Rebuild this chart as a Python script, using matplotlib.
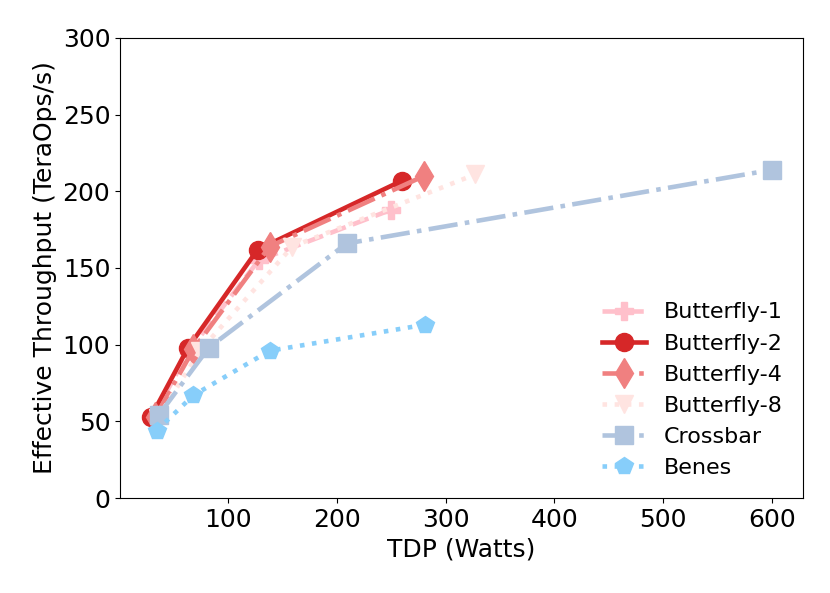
import matplotlib
matplotlib.use("Agg")
import matplotlib.pyplot as plt

# TDP (W) and effective throughput (TeraOps/s) per topology
b1_tdp = [30, 64, 128, 250]
b1_thr = [52, 96, 155, 188]

b2_tdp = [29, 63, 127, 260]
b2_thr = [53, 98, 162, 207]

b4_tdp = [33, 68, 138, 280]
b4_thr = [53, 97, 164, 210]

b8_tdp = [35, 74, 159, 327]
b8_thr = [52, 96, 164, 211]

xbar_tdp = [36, 82, 209, 600]
xbar_thr = [54, 98, 166, 214]

benes_tdp = [34, 68, 138, 281]
benes_thr = [44, 67, 96, 113]

plt.rcParams['font.family'] = ['DejaVu Sans']

fig = plt.figure(figsize=(8.3, 5.93), dpi=100)
ax = fig.add_axes([0.1446, 0.1602, 0.8229, 0.7758])

lw = 3.3
ms = 13
ax.plot(b1_tdp, b1_thr, '--', marker='P', color='pink', lw=lw, ms=ms, label='Butterfly-1')
ax.plot(b2_tdp, b2_thr, '-', marker='o', color='tab:red', lw=lw, ms=ms, label='Butterfly-2')
ax.plot(b4_tdp, b4_thr, '-.', marker='d', color='lightcoral', lw=lw, ms=ms + 2, label='Butterfly-4')
ax.plot(b8_tdp, b8_thr, ':', marker='v', color='mistyrose', lw=lw, ms=ms, label='Butterfly-8')
ax.plot(xbar_tdp, xbar_thr, '-.', marker='s', color='lightsteelblue', lw=lw, ms=ms, label='Crossbar')
ax.plot(benes_tdp, benes_thr, ':', marker='p', color='lightskyblue', lw=lw, ms=ms, label='Benes')

ax.set_ylim(0, 300)
ax.set_xticks([100, 200, 300, 400, 500, 600])
ax.tick_params(labelsize=18)
ax.set_xlabel('TDP (Watts)', fontsize=18)
ax.set_ylabel('Effective Throughput (TeraOps/s)', fontsize=18)
ax.legend(loc='lower right', frameon=False, fontsize=16)

fig.savefig('out.png', dpi=100)
